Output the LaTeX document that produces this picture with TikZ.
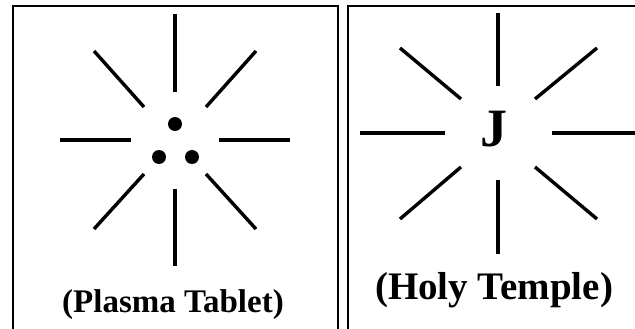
\documentclass[tikz,border=0pt]{standalone}
\usepackage{fontspec}
\setmainfont{Liberation Serif}
\usetikzlibrary{positioning}
\tikzset{
  ray/.style   ={line width=3.4pt},
  dot/.style   ={circle, fill=black, minimum size=14pt, inner sep=0pt},
  frame/.style ={line width=2.5pt},
  lbl/.style   ={font=\bfseries\fontsize{33}{36}\selectfont, inner sep=0pt},
}

\begin{document}
\begin{tikzpicture}[x=1pt, y=-1pt]
  \useasboundingbox (0,0) rectangle (635,329);
  % --- frames ---
  \draw[frame] (13,329) |- (338,6) -- (338,329);
  \draw[frame] (348,329) |- (640,6);
  % --- plasma tablet: eight rays + three dots ---
  \begin{scope}[shift={(175,140)}]
    \foreach \ax/\ay/\bx/\by in {0/-126/0/-48, 0/49/0/126, -115/0/-44/0, 44/0/115/0,
        -81/-89/-31/-33, 81/-89/31/-33, -31/34/-81/89, 31/34/81/89}
      \draw[ray] (\ax,\ay) -- (\bx,\by);
    \node[dot] (d1) at (0,-16) {};
    \node[dot] (d2) at (-16,17) {};
    \node[dot] (d3) at (17,17) {};
    \node[lbl] (plasma) at (-2,165) {(Plasma Tablet)};
  \end{scope}
  % --- holy temple: eight rays + J ---
  \begin{scope}[shift={(498,133)}]
    \foreach \ax/\ay/\bx/\by in {0/-120/0/-47, 0/47/0/121, -138/0/-53/0, 54/0/140/0,
        -98/-85/-37/-34, 99/-85/37/-34, -37/34/-98/86, 37/34/99/86}
      \draw[ray] (\ax,\ay) -- (\bx,\by);
    \node[font=\bfseries\fontsize{54}{58}\selectfont, inner sep=0pt] (jay) at (-4,-4) {J};
    \node[lbl, font=\bfseries\fontsize{39}{42}\selectfont] (temple) at (-4,157) {(Holy Temple)};
  \end{scope}
\end{tikzpicture}
\end{document}
